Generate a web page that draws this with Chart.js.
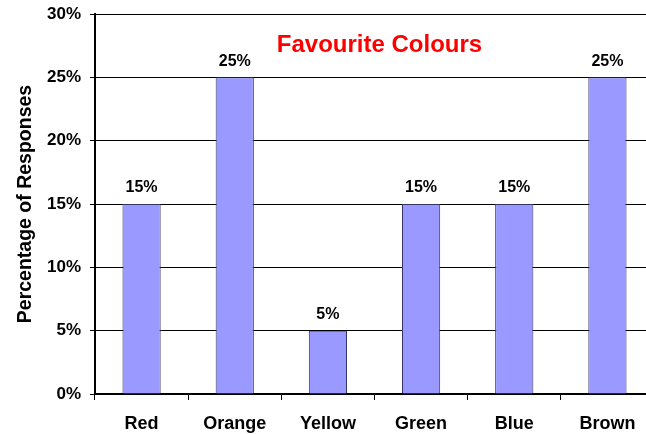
<!DOCTYPE html>
<html>
<head>
<meta charset="utf-8">
<script src="https://cdn.jsdelivr.net/npm/chart.js@4/dist/chart.umd.min.js"></script>
<style>
  html, body { margin: 0; padding: 0; background: #fff; overflow: hidden; }
  #wrap { width: 656px; height: 434px; }
</style>
</head>
<body>
<div id="wrap"><canvas id="colourChart"></canvas></div>
<script>
// Survey results
var categories = ["Red", "Orange", "Yellow", "Green", "Blue", "Brown"];
var responses = [15, 25, 5, 15, 15, 25];
var yTicks = [0, 5, 10, 15, 20, 25, 30];

var FONT = "'Liberation Sans', Arial, sans-serif";

// value labels over each bar
var barLabels = {
  id: "barLabels",
  afterDatasetsDraw: function (chart) {
    var ctx = chart.ctx;
    var meta = chart.getDatasetMeta(0);
    ctx.save();
    ctx.font = "bold 16px " + FONT;
    ctx.fillStyle = "#000";
    ctx.textAlign = "center";
    ctx.textBaseline = "bottom";
    meta.data.forEach(function (bar, i) {
      ctx.fillText(responses[i] + "%", bar.x, bar.y - 8);
    });
    ctx.restore();
  }
};

// title sits inside the plot area
var innerTitle = {
  id: "innerTitle",
  afterDraw: function (chart) {
    var ctx = chart.ctx;
    var area = chart.chartArea;
    ctx.save();
    ctx.font = "bold 24px " + FONT;
    ctx.fillStyle = "#ff0000";
    ctx.textAlign = "center";
    ctx.textBaseline = "middle";
    ctx.fillText("Favourite Colours", (area.left + area.right) / 2 + 5, 45);
    ctx.restore();
  }
};

var ctx = document.getElementById("colourChart").getContext("2d");
new Chart(ctx, {
  type: "bar",
  data: {
    labels: categories,
    datasets: [{
      data: responses,
      backgroundColor: "#9999ff",
      borderColor: "#333366",
      borderWidth: 1,
      barPercentage: 0.41,
      categoryPercentage: 1
    }]
  },
  options: {
    responsive: true,
    maintainAspectRatio: false,
    animation: false,
    layout: { padding: { top: 14, left: 0, right: 2, bottom: 0 } },
    plugins: {
      legend: { display: false },
      tooltip: { enabled: false }
    },
    scales: {
      x: {
        grid: {
          offset: true,
          drawOnChartArea: false,
          color: "#000",
          tickLength: 6,
          tickWidth: 1
        },
        border: { color: "#000", width: 2 },
        ticks: {
          color: "#000",
          padding: 13,
          font: { family: FONT, size: 18, weight: "bold" }
        },
        afterFit: function (scale) { scale.height = 40; }
      },
      y: {
        min: 0,
        max: 30,
        afterBuildTicks: function (scale) {
          scale.ticks = yTicks.map(function (v) { return { value: v }; });
        },
        grid: {
          color: "#000",
          lineWidth: 1,
          tickLength: 5
        },
        border: { color: "#000", width: 2 },
        ticks: {
          color: "#000",
          padding: 9,
          font: { family: FONT, size: 17, weight: "bold" },
          callback: function (v) { return v + "%"; }
        },
        title: {
          display: true,
          text: "Percentage of Responses",
          color: "#000",
          padding: { top: 14, bottom: 0 },
          font: { family: FONT, size: 19.5, weight: "bold" }
        },
        afterFit: function (scale) {
          scale.width = 95;
          scale.paddingTop = 0;
          scale.paddingBottom = 0;
        }
      }
    }
  },
  plugins: [barLabels, innerTitle]
});
</script>
</body>
</html>
